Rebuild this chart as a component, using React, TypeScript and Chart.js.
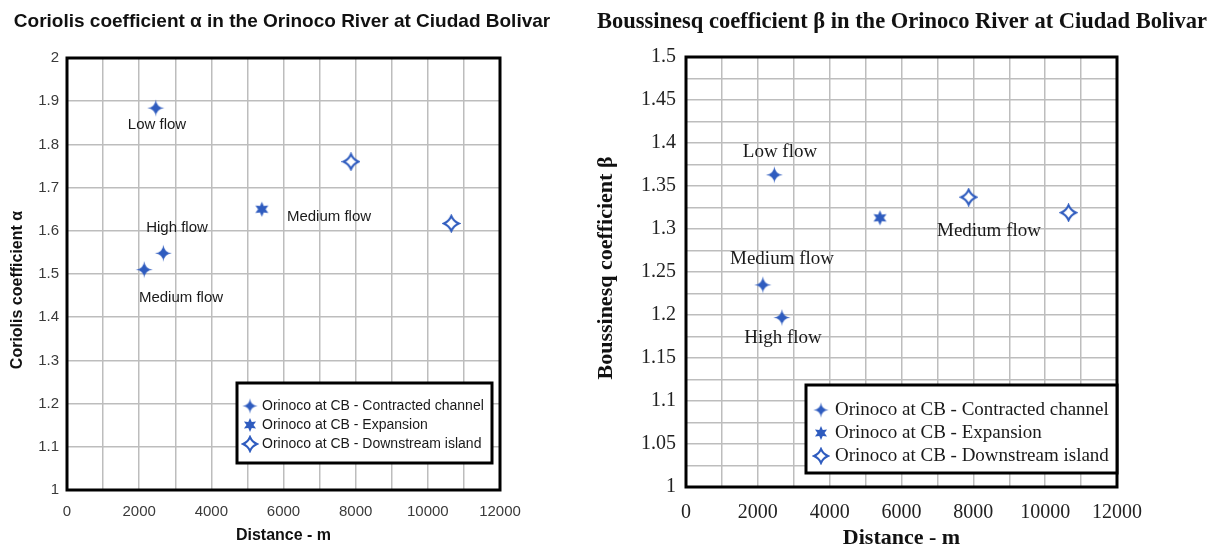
import React, { useEffect, useRef } from "react";
import { Chart, registerables } from "chart.js";
Chart.register(...registerables);

// ---------- data ----------
const distContracted = [2460, 2670, 2140]; // low, high, medium flow
const alphaContracted = [1.884, 1.548, 1.51];
const betaContracted = [1.363, 1.197, 1.235];
const distExpansion = [5400];
const alphaExpansion = [1.65];
const betaExpansion = [1.313];
const distIsland = [7870, 10650];
const alphaIsland = [1.76, 1.617];
const betaIsland = [1.337, 1.319];

const seriesNames = [
  "Orinoco at CB - Contracted channel",
  "Orinoco at CB - Expansion",
  "Orinoco at CB - Downstream island",
];

// flow labels in data units (distance, coefficient)
const alphaLabels = [
  { text: "Low flow", x: 2494, y: 1.845 },
  { text: "High flow", x: 3048, y: 1.606 },
  { text: "Medium flow", x: 3159, y: 1.444 },
  { text: "Medium flow", x: 7261, y: 1.632 },
];
const betaLabels = [
  { text: "Low flow", x: 2617, y: 1.3895 },
  { text: "Medium flow", x: 2673, y: 1.265 },
  { text: "High flow", x: 2700, y: 1.173 },
  { text: "Medium flow", x: 8436, y: 1.2977 },
];

const xTicksMin = 0, xTicksMax = 12000, xStep = 1000, xLabelStep = 2000;

const BLUE = "#2f5cbf";

function makeMarker(kind: "four" | "six" | "open", size: number): HTMLCanvasElement {
  const s = size + 4;
  const c = document.createElement("canvas");
  c.width = s;
  c.height = s;
  const ctx = c.getContext("2d")!;
  const cx = s / 2, cy = s / 2, R = size / 2;
  ctx.beginPath();
  if (kind === "six") {
    const inner = R * 0.5;
    for (let i = 0; i < 12; i++) {
      const r = i % 2 === 0 ? R : inner;
      const a = -Math.PI / 2 + (i * Math.PI) / 6;
      const x = cx + r * Math.cos(a), y = cy + r * Math.sin(a);
      if (i === 0) ctx.moveTo(x, y); else ctx.lineTo(x, y);
    }
  } else {
    const k = kind === "four" ? R * 0.12 : R * 0.42;
    for (let i = 0; i < 4; i++) {
      const a = -Math.PI / 2 + (i * Math.PI) / 2;
      const am = a + Math.PI / 4;
      const x = cx + R * Math.cos(a), y = cy + R * Math.sin(a);
      if (i === 0) ctx.moveTo(x, y);
      const a2 = a + Math.PI / 2;
      ctx.quadraticCurveTo(cx + k * Math.cos(am), cy + k * Math.sin(am), cx + R * Math.cos(a2), cy + R * Math.sin(a2));
    }
  }
  ctx.closePath();
  if (kind === "open") {
    ctx.fillStyle = "#ffffff";
    ctx.fill();
    ctx.lineWidth = 2;
    ctx.strokeStyle = BLUE;
    ctx.stroke();
  } else {
    ctx.fillStyle = BLUE;
    ctx.fill();
  }
  return c;
}

type Spec = {
  family: string;
  title: string;
  titleSize: number;
  titleX: number;
  titleY: number;
  yTitle: string;
  axisTitleSize: number;
  yTitleX: number;
  yTitleY: number;
  xTitleY: number;
  tickSize: number;
  tickColor: string;
  annSize: number;
  legendSize: number;
  legendBox: { left: number; top: number; right: number; bottom: number };
  legendRows: number[];
  legendMarkerX: number;
  legendTextX: number;
  area: { left: number; top: number; right: number; bottom: number };
  width: number;
  height: number;
  yMin: number;
  yMax: number;
  yStep: number;
  yLabel: (v: number) => string;
  ys: [number[], number[], number[]];
  labels: { text: string; x: number; y: number }[];
  xPad: number;
  yPad: number;
};

function buildChart(canvas: HTMLCanvasElement, spec: Spec) {
  const markers = [makeMarker("four", 17), makeMarker("six", 15), makeMarker("open", 15)];
  const legendMarkers = [makeMarker("four", 15), makeMarker("six", 14), makeMarker("open", 14)];
  const dists = [distContracted, distExpansion, distIsland];
  const datasets = dists.map((d, i) => ({
    label: seriesNames[i],
    data: d.map((x, j) => ({ x, y: spec.ys[i][j] })),
    pointStyle: markers[i] as any,
    pointRadius: 8,
    showLine: false,
  }));

  const decor = {
    id: "decor",
    beforeDatasetsDraw(chart: any) {
      const { ctx, chartArea: a } = chart;
      ctx.save();
      ctx.strokeStyle = "#000";
      ctx.lineWidth = 3;
      ctx.strokeRect(a.left, a.top, a.right - a.left, a.bottom - a.top);
      ctx.restore();
    },
    afterDatasetsDraw(chart: any) {
      const { ctx } = chart;
      const b = spec.legendBox;
      ctx.save();
      ctx.fillStyle = "#fff";
      ctx.fillRect(b.left, b.top, b.right - b.left, b.bottom - b.top);
      ctx.strokeStyle = "#000";
      ctx.lineWidth = 3;
      ctx.strokeRect(b.left, b.top, b.right - b.left, b.bottom - b.top);
      ctx.font = `${spec.legendSize}px ${spec.family}`;
      ctx.fillStyle = "#1a1a1a";
      ctx.textBaseline = "middle";
      ctx.textAlign = "left";
      seriesNames.forEach((n, i) => {
        const m = legendMarkers[i];
        const yy = spec.legendRows[i];
        ctx.drawImage(m, spec.legendMarkerX - m.width / 2, yy - m.height / 2);
        ctx.fillText(n, spec.legendTextX, yy);
      });
      // flow labels
      const xs = chart.scales.x, ys = chart.scales.y;
      ctx.font = `${spec.annSize}px ${spec.family}`;
      ctx.textAlign = "center";
      spec.labels.forEach((l) => {
        ctx.fillText(l.text, xs.getPixelForValue(l.x), ys.getPixelForValue(l.y));
      });
      ctx.restore();
    },
    afterDraw(chart: any) {
      const { ctx, chartArea: a } = chart;
      ctx.save();
      ctx.fillStyle = "#111";
      ctx.textAlign = "center";
      ctx.textBaseline = "middle";
      ctx.font = `bold ${spec.titleSize}px ${spec.family}`;
      ctx.fillText(spec.title, spec.titleX, spec.titleY);
      ctx.font = `bold ${spec.axisTitleSize}px ${spec.family}`;
      ctx.fillText("Distance - m", (a.left + a.right) / 2, spec.xTitleY);
      ctx.translate(spec.yTitleX, spec.yTitleY);
      ctx.rotate(-Math.PI / 2);
      ctx.fillText(spec.yTitle, 0, 0);
      ctx.restore();
    },
  };

  const tickFont = { family: spec.family, size: spec.tickSize };
  return new Chart(canvas, {
    type: "scatter",
    data: { datasets },
    plugins: [decor],
    options: {
      responsive: false,
      animation: false,
      devicePixelRatio: 1,
      layout: {
        padding: {
          left: 0,
          top: spec.area.top,
          right: spec.width - spec.area.right,
          bottom: 0,
        },
      },
      plugins: { legend: { display: false }, tooltip: { enabled: false }, title: { display: false } },
      scales: {
        x: {
          type: "linear",
          min: xTicksMin,
          max: xTicksMax,
          afterFit: (s: any) => { s.height = spec.height - spec.area.bottom; },
          grid: { color: "#bdbdbd", lineWidth: 1.5, drawTicks: false },
          border: { display: false },
          ticks: {
            stepSize: xStep,
            autoSkip: false,
            maxRotation: 0,
            padding: spec.xPad,
            color: spec.tickColor,
            font: tickFont,
            callback: (v: any) => (Number(v) % xLabelStep === 0 ? String(v) : ""),
          },
        },
        y: {
          type: "linear",
          min: spec.yMin,
          max: spec.yMax,
          afterFit: (s: any) => { s.width = spec.area.left; },
          grid: { color: "#bdbdbd", lineWidth: 1.5, drawTicks: false },
          border: { display: false },
          ticks: {
            stepSize: spec.yStep,
            autoSkip: false,
            padding: spec.yPad,
            color: spec.tickColor,
            font: tickFont,
            callback: (v: any) => spec.yLabel(Number(v)),
          },
        },
      },
    } as any,
  });
}

const SANS = "'Liberation Sans', Arial, sans-serif";
const SERIF = "'Liberation Serif', 'Times New Roman', serif";

export default function App() {
  const leftRef = useRef<HTMLCanvasElement>(null);
  const rightRef = useRef<HTMLCanvasElement>(null);

  useEffect(() => {
    const left = buildChart(leftRef.current!, {
      family: SANS,
      title: "Coriolis coefficient \u03b1 in the Orinoco River at Ciudad Bolivar",
      titleSize: 19,
      titleX: 282,
      titleY: 22,
      yTitle: "Coriolis coefficient \u03b1",
      axisTitleSize: 16,
      yTitleX: 18,
      yTitleY: 290,
      xTitleY: 536,
      tickSize: 15,
      tickColor: "#3a3a3a",
      annSize: 15,
      legendSize: 14,
      legendBox: { left: 237, top: 383, right: 492, bottom: 463 },
      legendRows: [406, 425, 444],
      legendMarkerX: 250,
      legendTextX: 262,
      area: { left: 67, top: 58, right: 500, bottom: 490 },
      width: 590,
      height: 549,
      yMin: 1,
      yMax: 2,
      yStep: 0.1,
      yLabel: (v) => String(Math.round(v * 10) / 10),
      ys: [alphaContracted, alphaExpansion, alphaIsland],
      labels: alphaLabels,
      xPad: 13,
      yPad: 8,
    });
    const right = buildChart(rightRef.current!, {
      family: SERIF,
      title: "Boussinesq coefficient \u03b2 in the Orinoco River at Ciudad Bolivar",
      titleSize: 22.5,
      titleX: 312,
      titleY: 22,
      yTitle: "Boussinesq coefficient \u03b2",
      axisTitleSize: 22,
      yTitleX: 16,
      yTitleY: 268,
      xTitleY: 538,
      tickSize: 20,
      tickColor: "#222",
      annSize: 19,
      legendSize: 19,
      legendBox: { left: 216, top: 385, right: 527, bottom: 473 },
      legendRows: [410, 433, 456],
      legendMarkerX: 231,
      legendTextX: 245,
      area: { left: 96, top: 57, right: 527, bottom: 487 },
      width: 621,
      height: 549,
      yMin: 1,
      yMax: 1.5,
      yStep: 0.025,
      yLabel: (v) => {
        const k = Math.round(v * 1000);
        return k % 50 === 0 ? String(k / 1000) : "";
      },
      ys: [betaContracted, betaExpansion, betaIsland],
      labels: betaLabels,
      xPad: 14,
      yPad: 10,
    });
    return () => {
      left.destroy();
      right.destroy();
    };
  }, []);

  return (
    <div style={{ position: "absolute", left: 0, top: 0, width: 1211, height: 549, background: "#fff" }}>
      <canvas ref={leftRef} width={590} height={549} style={{ position: "absolute", left: 0, top: 0 }} />
      <canvas ref={rightRef} width={621} height={549} style={{ position: "absolute", left: 590, top: 0 }} />
    </div>
  );
}
